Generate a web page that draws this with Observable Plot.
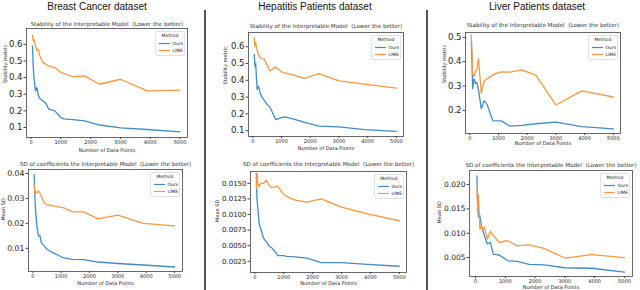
<!DOCTYPE html>
<html><head><meta charset="utf-8">
<script src="https://cdn.jsdelivr.net/npm/d3@7"></script>
<script src="https://cdn.jsdelivr.net/npm/@observablehq/plot@0.6"></script>
<style>
body{margin:0;background:#fff;}
#root{position:relative;width:640px;height:290px;overflow:hidden;font-family:"Liberation Sans",Arial,sans-serif;}
.head{position:absolute;top:1px;font-size:10px;line-height:12px;color:#111;transform:translateX(-50%);white-space:nowrap;}
.sep{position:absolute;top:10px;width:1.5px;height:280px;background:#555;}
.panel{position:absolute;}
.panel svg{overflow:visible;}
</style></head><body><div id="root"></div>
<script>
// ---- data ----
const dataPoints = [50, 75, 100, 150, 200, 250, 300, 400, 500, 600, 800, 1000, 1100, 1400, 1800, 2300, 3000, 3900, 5000];
const methods = ["Ours", "LIME"];
const datasets = ["Breast Cancer dataset", "Hepatitis Patients dataset", "Liver Patients dataset"];
const stabilityTitle = "Stability of the Interpretable Model  (Lower the better)";
const sdTitle = "SD of coefficients the Interpretable Model  (Lower the better)";
const xLabel = "Number of Data Points";
const xTicks = [0, 1000, 2000, 3000, 4000, 5000];

const breastStabilityOurs = [0.59, 0.47, 0.40, 0.32, 0.34, 0.29, 0.275, 0.26, 0.245, 0.21, 0.20, 0.16, 0.152, 0.148, 0.14, 0.115, 0.098, 0.088, 0.074];
const breastStabilityLime = [0.655, 0.62, 0.63, 0.59, 0.565, 0.57, 0.53, 0.49, 0.48, 0.47, 0.46, 0.43, 0.425, 0.405, 0.41, 0.36, 0.39, 0.32, 0.325];
const hepatitisStabilityOurs = [0.555, 0.48, 0.50, 0.345, 0.365, 0.33, 0.305, 0.28, 0.255, 0.24, 0.165, 0.178, 0.182, 0.17, 0.149, 0.127, 0.122, 0.106, 0.096];
const hepatitisStabilityLime = [0.653, 0.60, 0.625, 0.58, 0.55, 0.535, 0.53, 0.525, 0.49, 0.456, 0.48, 0.45, 0.445, 0.432, 0.412, 0.44, 0.396, 0.377, 0.353];
const liverStabilityOurs = [0.48, 0.40, 0.29, 0.33, 0.31, 0.315, 0.285, 0.207, 0.24, 0.225, 0.158, 0.157, 0.157, 0.135, 0.138, 0.145, 0.152, 0.133, 0.124];
const liverStabilityLime = [0.51, 0.45, 0.35, 0.34, 0.36, 0.37, 0.413, 0.27, 0.32, 0.33, 0.345, 0.355, 0.358, 0.357, 0.366, 0.345, 0.222, 0.28, 0.255];
const breastSdOurs = [0.0395, 0.0305, 0.025, 0.0186, 0.015, 0.0152, 0.0123, 0.011, 0.0096, 0.0089, 0.0078, 0.0066, 0.0062, 0.0056, 0.0055, 0.0045, 0.0039, 0.0033, 0.0025];
const breastSdLime = [0.0355, 0.0322, 0.0328, 0.0322, 0.033, 0.0322, 0.031, 0.0285, 0.0273, 0.0274, 0.0268, 0.0264, 0.0262, 0.0246, 0.0246, 0.0218, 0.0233, 0.020, 0.019];
const hepatitisSdOurs = [0.0166, 0.0125, 0.0112, 0.0085, 0.0078, 0.007, 0.0062, 0.0056, 0.0049, 0.0046, 0.0034, 0.0034, 0.0033, 0.0032, 0.003, 0.0023, 0.0023, 0.002, 0.0017];
const hepatitisSdLime = [0.0142, 0.0166, 0.0150, 0.0145, 0.015, 0.015, 0.015, 0.0155, 0.0147, 0.0143, 0.0145, 0.0132, 0.0129, 0.0123, 0.012, 0.0125, 0.0112, 0.0101, 0.009];
const liverSdOurs = [0.0218, 0.0153, 0.0133, 0.0136, 0.0115, 0.0105, 0.0095, 0.0078, 0.0081, 0.0057, 0.0055, 0.0047, 0.0043, 0.0042, 0.0036, 0.0035, 0.0029, 0.0028, 0.002];
const liverSdLime = [0.0195, 0.0153, 0.018, 0.0108, 0.0115, 0.0108, 0.0113, 0.0088, 0.0104, 0.0095, 0.0081, 0.0084, 0.0084, 0.0074, 0.0076, 0.0069, 0.0049, 0.0056, 0.005];

// ---- layout / style ----
const colors = ["#3f8ccb", "#fb983f"];
const panels = [
  {frame:[26,28,187,137], x:[-150,5250], y:[0.04,0.695], ticks:[0.1,0.2,0.3,0.4,0.5,0.6], fmt:".1f", title:stabilityTitle, titleDy:-4, ylabel:"Stability metric", ylabDx:-21, xlabDy:13, ours:breastStabilityOurs, lime:breastStabilityLime, yfs:8.5},
  {frame:[248,32,403,136], x:[-150,5250], y:[0.065,0.685], ticks:[0.1,0.2,0.3,0.4,0.5,0.6], fmt:".1f", title:stabilityTitle, titleDy:-6, ylabel:"Stability metric", ylabDx:-23, xlabDy:12, ours:hepatitisStabilityOurs, lime:hepatitisStabilityLime, yfs:8.5},
  {frame:[465,32,620,133], x:[-150,5250], y:[0.105,0.52], ticks:[0.2,0.3,0.4,0.5], fmt:".1f", title:stabilityTitle, titleDy:-7, ylabel:"Stability metric", ylabDx:-21, xlabDy:10, ours:liverStabilityOurs, lime:liverStabilityLime, yfs:8.5},
  {frame:[28,169,182,271], x:[-150,5280], y:[0.0007,0.0416], ticks:[0.01,0.02,0.03,0.04], fmt:".2f", title:sdTitle, titleDy:-5, ylabel:"Mean SD", ylabDx:-25, xlabDy:12, ours:breastSdOurs, lime:breastSdLime, yfs:7.8},
  {frame:[250,171,406,272], x:[-150,5250], y:[0.0007,0.0169], ticks:[0.0025,0.005,0.0075,0.01,0.0125,0.015], fmt:".4f", title:sdTitle, titleDy:-7, ylabel:"Mean SD", ylabDx:-33, xlabDy:11, ours:hepatitisSdOurs, lime:hepatitisSdLime, yfs:7},
  {frame:[469,170,632,276], x:[-200,5270], y:[0.0011,0.0229], ticks:[0.005,0.01,0.015,0.02], fmt:".3f", title:sdTitle, titleDy:-5, ylabel:"Mean SD", ylabDx:-30, xlabDy:11, ours:liverSdOurs, lime:liverSdLime, yfs:7.5}
];
const headCenters = [97, 315, 537];
const sepX = [204, 426];

const root = document.getElementById("root");
datasets.forEach((d, i) => {
  const h = document.createElement("div");
  h.className = "head"; h.textContent = d; h.style.left = headCenters[i] + "px";
  root.appendChild(h);
});
sepX.forEach(x => {
  const s = document.createElement("div");
  s.className = "sep"; s.style.left = x + "px"; root.appendChild(s);
});

const mL = 36, mT = 14, mR = 8, mB = 18;
panels.forEach(p => {
  const [L, T, R, B] = p.frame;
  const rows = [];
  p.ours.forEach((v, i) => rows.push({n: dataPoints[i], v, method: "Ours"}));
  p.lime.forEach((v, i) => rows.push({n: dataPoints[i], v, method: "LIME"}));
  const chart = Plot.plot({
    width: R - L + mL + mR, height: B - T + mT + mB,
    marginLeft: mL, marginTop: mT, marginRight: mR, marginBottom: mB,
    style: {background: "transparent", fontFamily: "DejaVu Sans, sans-serif", color: "#222", overflow: "visible"},
    x: {domain: p.x}, y: {domain: p.y},
    color: {domain: methods, range: colors},
    marks: [
      Plot.line(rows, {x: "n", y: "v", z: "method", stroke: "method", strokeWidth: 1.3}),
      Plot.frame({stroke: "#444", strokeWidth: 0.8}),
      Plot.axisX({ticks: xTicks, tickFormat: d3.format("d"), tickSize: 2, tickPadding: 1, fontSize: 5, label: null, stroke: "#444"}),
      Plot.axisY({ticks: p.ticks, tickFormat: d3.format(p.fmt), tickSize: 2.5, tickPadding: 1.5, fontSize: p.yfs, label: null, stroke: "#444"}),
      Plot.text([xLabel], {frameAnchor: "bottom", lineAnchor: "middle", dy: p.xlabDy, fontSize: 5, fill: "#222"}),
      Plot.text([p.ylabel], {frameAnchor: "left", lineAnchor: "middle", rotate: -90, dx: p.ylabDx, fontSize: 5, fill: "#222"}),
      Plot.text([p.title], {frameAnchor: "top", lineAnchor: "middle", dy: p.titleDy, fontSize: 5.6, fill: "#333"})
    ]
  });
  const wrap = document.createElement("div");
  wrap.className = "panel";
  wrap.style.left = (L - mL) + "px"; wrap.style.top = (T - mT) + "px";
  wrap.appendChild(chart);
  root.appendChild(wrap);

  // legend (upper right inside frame)
  const lw = 29, lh = 24;
  const svg = d3.create("svg").attr("width", lw + 2).attr("height", lh + 2)
    .style("position", "absolute").style("left", (R - 3 - lw) + "px").style("top", (T + 3) + "px")
    .style("font-family", "DejaVu Sans, sans-serif");
  svg.append("rect").attr("x", 0.5).attr("y", 0.5).attr("width", lw).attr("height", lh).attr("rx", 1.5)
    .attr("fill", "white").attr("fill-opacity", 0.85).attr("stroke", "#ccc").attr("stroke-width", 0.6);
  svg.append("text").attr("x", lw / 2 + 0.5).attr("y", 6).attr("text-anchor", "middle").attr("font-size", 4.5).attr("fill", "#222").text("Method");
  methods.forEach((m, i) => {
    const y = 12.5 + i * 7;
    svg.append("line").attr("x1", 4).attr("x2", 15).attr("y1", y).attr("y2", y).attr("stroke", colors[i]).attr("stroke-width", 1.2);
    svg.append("text").attr("x", 17.5).attr("y", y + 1.6).attr("font-size", 4.5).attr("fill", "#222").text(m);
  });
  root.appendChild(svg.node());
});
</script>
</body></html>
